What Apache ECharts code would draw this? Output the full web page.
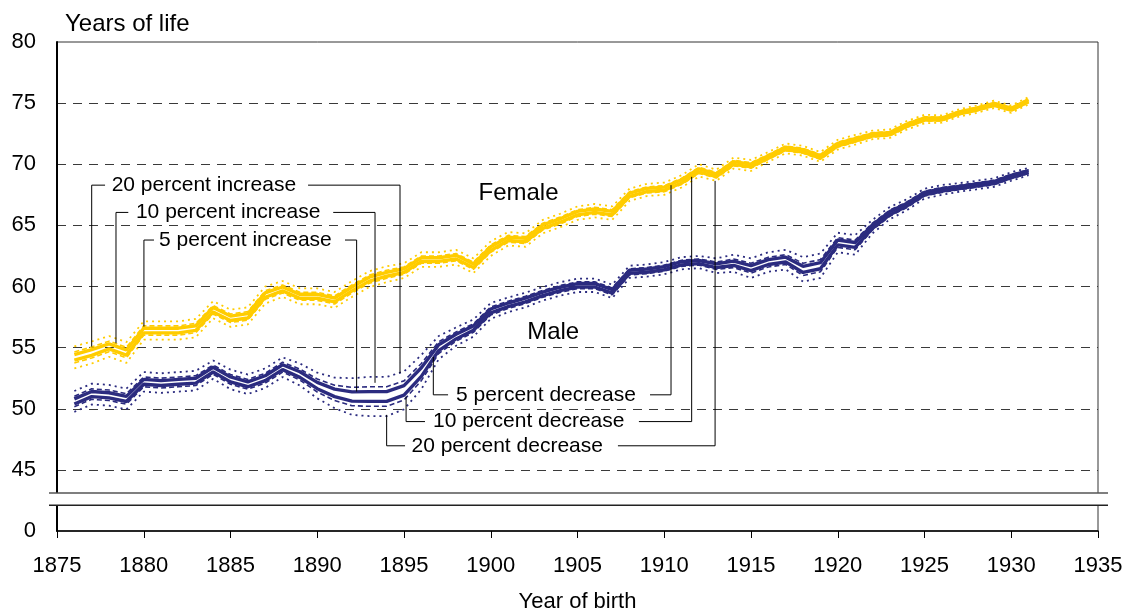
<!DOCTYPE html>
<html>
<head>
<meta charset="utf-8">
<script src="https://cdn.jsdelivr.net/npm/echarts@6/dist/echarts.min.js"></script>
<style>
  html, body { margin: 0; padding: 0; background: #fff; }
  #chart { width: 1125px; height: 610px; }
</style>
</head>
<body>
<div id="chart"></div>
<script>
// Years of birth on the x axis
const years = [1876,1877,1878,1879,1880,1881,1882,1883,1884,1885,1886,1887,1888,1889,1890,
  1891,1892,1893,1894,1895,1896,1897,1898,1899,1900,1901,1902,1903,1904,1905,1906,1907,1908,
  1909,1910,1911,1912,1913,1914,1915,1916,1917,1918,1919,1920,1921,1922,1923,1924,1925,1926,
  1927,1928,1929,1930,1931];

// Female life expectancy under the mortality scenarios
const femaleInc5 = [54.43,54.83,55.31,54.81,56.59,56.59,56.59,56.79,58.28,57.58,57.78,59.48,59.96,59.36,59.36,
  59.06,59.96,60.76,61.16,61.45,62.35,62.35,62.55,61.85,63.25,64.04,63.94,65.04,65.54,66.14,66.34,66.14,67.63,
  68.03,68.13,68.73,69.63,69.21,70.21,70.01,70.7,71.4,71.2,70.7,71.7,72.1,72.49,72.59,73.29,73.79,73.78,
  74.28,74.58,74.98,74.58,75.28];
const femaleDec5 = [53.97,54.37,54.89,54.39,56.21,56.21,56.21,56.41,57.92,57.22,57.42,59.12,59.64,59.04,59.04,
  58.74,59.64,60.44,60.84,61.15,62.05,62.05,62.25,61.55,62.95,63.76,63.66,64.76,65.26,65.86,66.06,65.86,67.37,
  67.77,67.87,68.47,69.37,68.99,69.99,69.79,70.5,71.2,71.0,70.5,71.5,71.9,72.31,72.41,73.11,73.61,73.62,
  74.12,74.42,74.82,74.42,75.12];
const femaleInc10 = [54.65,55.05,55.53,55.03,56.78,56.78,56.78,56.98,58.45,57.75,57.95,59.65,60.13,59.53,59.53,
  59.23,60.13,60.93,61.33,61.6,62.5,62.5,62.7,62.0,63.4,64.18,64.08,65.18,65.68,66.28,66.48,66.28,67.75,
  68.15,68.25,68.85,69.75,69.33,70.33,70.13,70.8,71.5,71.3,70.8,71.8,72.2,72.58,72.68,73.38,73.88,73.85,
  74.35,74.65,75.05,74.65,75.35];
const femaleDec10 = [53.75,54.15,54.67,54.17,56.02,56.02,56.02,56.22,57.75,57.05,57.25,58.95,59.47,58.87,58.87,
  58.57,59.47,60.27,60.67,61.0,61.9,61.9,62.1,61.4,62.8,63.62,63.52,64.62,65.12,65.72,65.92,65.72,67.25,
  67.65,67.75,68.35,69.25,68.87,69.87,69.67,70.4,71.1,70.9,70.4,71.4,71.8,72.22,72.32,73.02,73.52,73.55,
  74.05,74.35,74.75,74.35,75.05];
const femaleInc20 = [55.1,55.5,55.95,55.45,57.15,57.15,57.15,57.35,58.8,58.1,58.3,60.0,60.45,59.85,59.85,
  59.55,60.45,61.25,61.65,61.9,62.8,62.8,63.0,62.3,63.7,64.45,64.35,65.45,65.95,66.55,66.75,66.55,68.0,
  68.4,68.5,69.1,70.0,69.55,70.55,70.35,71.0,71.7,71.5,71.0,72.0,72.4,72.75,72.85,73.55,74.05,74.0,
  74.5,74.8,75.2,74.8,75.5];
const femaleDec20 = [53.3,53.7,54.25,53.75,55.65,55.65,55.65,55.85,57.4,56.7,56.9,58.6,59.15,58.55,58.55,
  58.25,59.15,59.95,60.35,60.7,61.6,61.6,61.8,61.1,62.5,63.35,63.25,64.35,64.85,65.45,65.65,65.45,67.0,
  67.4,67.5,68.1,69.0,68.65,69.65,69.45,70.2,70.9,70.7,70.2,71.2,71.6,72.05,72.15,72.85,73.35,73.4,
  73.9,74.2,74.6,74.2,74.9];

// Male life expectancy under the mortality scenarios
const maleInc5 = [50.81,51.41,51.31,51.01,52.4,52.3,52.4,52.5,53.39,52.6,52.2,52.7,53.6,53.03,52.16,
  51.61,51.38,51.4,51.4,51.89,53.35,55.24,56.09,56.78,58.16,58.65,59.05,59.54,59.94,60.24,60.24,59.74,61.33,
  61.43,61.63,62.03,62.13,61.85,62.08,61.7,62.2,62.4,61.65,61.95,63.8,63.6,65.04,66.13,66.81,67.7,68.0,
  68.19,68.39,68.59,69.09,69.48];
const maleDec5 = [50.39,50.99,50.89,50.59,52.0,51.9,52.0,52.1,53.01,52.2,51.8,52.3,53.2,52.57,51.64,
  50.99,50.62,50.6,50.6,51.11,52.65,54.76,55.71,56.42,57.84,58.35,58.75,59.26,59.66,59.96,59.96,59.46,61.07,
  61.17,61.37,61.77,61.87,61.55,61.72,61.3,61.8,62.0,61.15,61.45,63.4,63.2,64.76,65.87,66.59,67.5,67.8,
  68.01,68.21,68.41,68.91,69.32];
const maleInc10 = [51.03,51.63,51.53,51.23,52.6,52.5,52.6,52.7,53.58,52.8,52.4,52.9,53.8,53.25,52.43,
  51.93,51.75,51.8,51.8,52.28,53.7,55.48,56.28,56.95,58.33,58.8,59.2,59.68,60.08,60.38,60.38,59.88,61.45,
  61.55,61.75,62.15,62.25,62.0,62.25,61.9,62.4,62.6,61.9,62.2,64.0,63.8,65.18,66.25,66.93,67.8,68.1,
  68.28,68.48,68.68,69.18,69.55];
const maleDec10 = [50.17,50.77,50.67,50.37,51.8,51.7,51.8,51.9,52.82,52.0,51.6,52.1,53.0,52.35,51.37,
  50.67,50.25,50.2,50.2,50.72,52.3,54.52,55.52,56.25,57.67,58.2,58.6,59.12,59.52,59.82,59.82,59.32,60.95,
  61.05,61.25,61.65,61.75,61.4,61.55,61.1,61.6,61.8,60.9,61.2,63.2,63.0,64.62,65.75,66.47,67.4,67.7,
  67.92,68.12,68.32,68.82,69.25];
const maleInc20 = [51.45,52.05,51.95,51.65,53.0,52.9,53.0,53.1,53.95,53.2,52.8,53.3,54.2,53.7,52.95,
  52.55,52.5,52.6,52.6,53.05,54.4,55.95,56.65,57.3,58.65,59.1,59.5,59.95,60.35,60.65,60.65,60.15,61.7,
  61.8,62.0,62.4,62.5,62.3,62.6,62.3,62.8,63.0,62.4,62.7,64.4,64.2,65.45,66.5,67.15,68.0,68.3,
  68.45,68.65,68.85,69.35,69.7];
const maleDec20 = [49.75,50.35,50.25,49.95,51.4,51.3,51.4,51.5,52.45,51.6,51.2,51.7,52.6,51.9,50.85,
  50.05,49.5,49.4,49.4,49.95,51.6,54.05,55.15,55.9,57.35,57.9,58.3,58.85,59.25,59.55,59.55,59.05,60.7,
  60.8,61.0,61.4,61.5,61.1,61.2,60.7,61.2,61.4,60.4,60.7,62.8,62.6,64.35,65.5,66.25,67.2,67.5,
  67.75,67.95,68.15,68.65,69.1];

// Axis ticks
const xTicks = [1875,1880,1885,1890,1895,1900,1905,1910,1915,1920,1925,1930,1935];
const yTickLabels = { 40: '0', 45: '45', 50: '50', 55: '55', 60: '60', 65: '65', 70: '70', 75: '75', 80: '80' };

const FEMALE = '#FFCC00';
const MALE = '#2B2B7F';
const FONT = '"Liberation Sans", Arial, sans-serif';

function pairs(vals) { return years.map((y, i) => [y, vals[i]]); }

function lineSeries(name, vals, color, kind) {
  const style = { color: color };
  if (kind === 'solid') { style.width = 3.4; style.type = 'solid'; }
  else if (kind === 'dashed') { style.width = 1.6; style.type = [5, 3]; }
  else { style.width = 1.8; style.type = [2, 4]; }
  return {
    name: name, type: 'line', data: pairs(vals), symbol: 'none',
    lineStyle: style, silent: true, animation: false, z: kind === 'solid' ? 4 : 3
  };
}

const chart = echarts.init(document.getElementById('chart'), null, { renderer: 'canvas' });

chart.setOption({
  animation: false,
  backgroundColor: '#fff',
  grid: {
    left: 57, right: 27, top: 42, bottom: 79,
    outerBoundsMode: 'none', containLabel: false,
    show: true, borderColor: '#333', borderWidth: 1, backgroundColor: 'transparent'
  },
  xAxis: {
    type: 'value', min: 1875, max: 1935, interval: 5,
    name: 'Year of birth', nameLocation: 'middle', nameGap: 60,
    nameTextStyle: { fontFamily: FONT, fontSize: 22, color: '#000' },
    axisLine: { show: true, lineStyle: { color: '#000', width: 1.5 } },
    axisTick: { show: true, length: 7, inside: false, lineStyle: { color: '#000', width: 1 } },
    axisLabel: { fontFamily: FONT, fontSize: 22, color: '#000', margin: 24,
      formatter: v => xTicks.includes(v) ? String(v) : '' },
    splitLine: { show: false }
  },
  yAxis: {
    type: 'value', min: 40, max: 80, interval: 5,
    axisLine: { show: true, onZero: false, lineStyle: { color: '#000', width: 2 } },
    axisTick: { show: false },
    axisLabel: { fontFamily: FONT, fontSize: 22, color: '#000', margin: 21,
      formatter: v => yTickLabels[v] || '' },
    splitLine: { show: true, showMinLine: false, showMaxLine: false,
      lineStyle: { color: '#3a3a3a', width: 1, type: [9, 7] } }
  },
  series: [
    lineSeries('Female +20%', femaleInc20, FEMALE, 'dotted'),
    lineSeries('Female -20%', femaleDec20, FEMALE, 'dotted'),
    lineSeries('Female +10%', femaleInc10, FEMALE, 'dashed'),
    lineSeries('Female -10%', femaleDec10, FEMALE, 'dashed'),
    lineSeries('Female +5%', femaleInc5, FEMALE, 'solid'),
    lineSeries('Female -5%', femaleDec5, FEMALE, 'solid'),
    lineSeries('Male +20%', maleInc20, MALE, 'dotted'),
    lineSeries('Male -20%', maleDec20, MALE, 'dotted'),
    lineSeries('Male +10%', maleInc10, MALE, 'dashed'),
    lineSeries('Male -10%', maleDec10, MALE, 'dashed'),
    lineSeries('Male +5%', maleInc5, MALE, 'solid'),
    lineSeries('Male -5%', maleDec5, MALE, 'solid')
  ]
});

// Callout leaders and labels, placed in data units (year, years of life)
const callouts = [
  { text: '20 percent increase', at: [1878.15, 68.29],
    legs: [[[1877.0, 55.08], [1877.0, 68.29], [1877.77, 68.29]],
           [[1889.47, 68.29], [1894.77, 68.29], [1894.77, 52.91]]] },
  { text: '10 percent increase', at: [1879.55, 66.06],
    legs: [[[1878.4, 55.36], [1878.4, 66.06], [1879.11, 66.06]],
           [[1890.92, 66.06], [1893.33, 66.06], [1893.33, 52.12]]] },
  { text: '5 percent increase', at: [1880.88, 63.8],
    legs: [[[1880.01, 56.72], [1880.01, 63.8], [1880.59, 63.8]],
           [[1891.6, 63.8], [1892.27, 63.8], [1892.27, 51.41]]] },
  { text: '5 percent decrease', at: [1898.0, 51.14],
    legs: [[[1896.69, 54.24], [1896.69, 51.14], [1897.54, 51.14]],
           [[1909.18, 51.14], [1910.39, 51.14], [1910.39, 68.29]]] },
  { text: '10 percent decrease', at: [1896.67, 48.95],
    legs: [[[1895.12, 51.0], [1895.12, 48.95], [1896.21, 48.95]],
           [[1908.54, 48.95], [1911.58, 48.95], [1911.58, 68.97]]] },
  { text: '20 percent decrease', at: [1895.43, 46.97],
    legs: [[[1894.0, 49.5], [1894.0, 46.97], [1895.06, 46.97]],
           [[1907.33, 46.97], [1912.93, 46.97], [1912.93, 68.64]]] }
];

const seriesLabels = [
  { text: 'Female', at: [1901.6, 67.6] },
  { text: 'Male', at: [1903.6, 56.25] }
];

function px(p) { return chart.convertToPixel({ gridIndex: 0 }, p); }

const graphics = [];
callouts.forEach(c => {
  c.legs.forEach(leg => {
    graphics.push({
      type: 'polyline', silent: true, z: 10,
      shape: { points: leg.map(px) },
      style: { stroke: '#000', lineWidth: 1, fill: null }
    });
  });
  const p = px(c.at);
  graphics.push({
    type: 'text', silent: true, z: 11, x: p[0], y: p[1],
    style: { text: c.text, fill: '#000', font: '21px ' + FONT, align: 'left', verticalAlign: 'middle' }
  });
});
seriesLabels.forEach(l => {
  const p = px(l.at);
  graphics.push({
    type: 'text', silent: true, z: 11, x: p[0], y: p[1],
    style: { text: l.text, fill: '#000', font: '24px ' + FONT, align: 'center', verticalAlign: 'middle' }
  });
});

// Y axis title
graphics.push({
  type: 'text', silent: true, z: 11, x: 65, y: 24,
  style: { text: 'Years of life', fill: '#000', font: '24px ' + FONT, align: 'left', verticalAlign: 'middle' }
});

// Axis break between the 0 baseline and the upper panel
const breakTop = px([1875, 43.1]);
const breakBottom = px([1875, 42.1]);
const rightEdge = px([1935, 43.1])[0];
graphics.push({
  type: 'rect', silent: true, z: 20,
  shape: { x: breakTop[0] - 10, y: breakTop[1], width: rightEdge - breakTop[0] + 20, height: breakBottom[1] - breakTop[1] },
  style: { fill: '#fff' }
});
graphics.push({
  type: 'line', silent: true, z: 21,
  shape: { x1: breakTop[0] - 8, y1: breakTop[1], x2: rightEdge + 10, y2: breakTop[1] },
  style: { stroke: '#555', lineWidth: 1.5 }
});
graphics.push({
  type: 'line', silent: true, z: 21,
  shape: { x1: breakTop[0] - 8, y1: breakBottom[1], x2: rightEdge + 10, y2: breakBottom[1] },
  style: { stroke: '#222', lineWidth: 1.5 }
});

chart.setOption({ graphic: graphics });
</script>
</body>
</html>
